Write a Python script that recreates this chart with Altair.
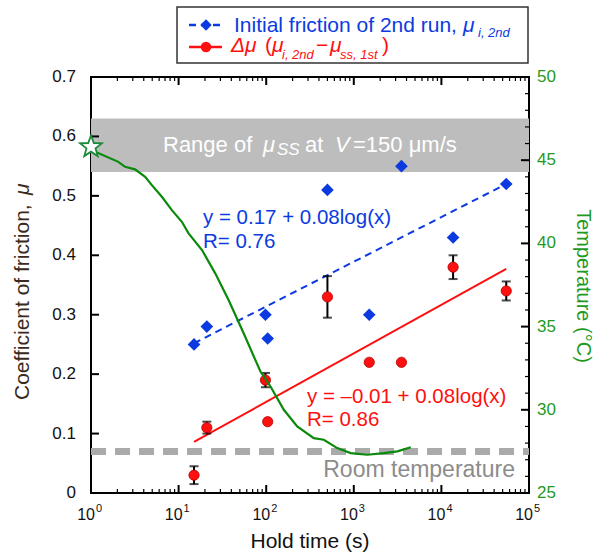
import math
import altair as alt
import pandas as pd

FONT = "Liberation Sans"
BLUE = "#0b3be0"
RED = "#ff1010"
GREEN = "#0a8a0a"
GREEN_TXT = "#1f9a1f"
GRAY_BAND = "#bdbdbd"
GRAY_LINE = "#aaaaaa"

# ---------------- data ----------------
hold_time = [15, 21, 98, 104, 500, 1500, 3500, 13600, 55000]
mu_initial_2nd = [0.25, 0.28, 0.30, 0.26, 0.51, 0.30, 0.55, 0.43, 0.52]
delta_mu = [0.03, 0.11, 0.19, 0.12, 0.33, 0.22, 0.22, 0.38, 0.34]
delta_mu_err = [0.015, 0.01, 0.012, 0.0, 0.035, 0.0, 0.0, 0.02, 0.016]

fit_x = [15, 55000]
fit_blue = [0.252, 0.520]
fit_red = [0.086, 0.377]

band_lo = [0.54]
band_hi = [0.63]

room_temp = [27.5]

temp_time = [1.0, 1.02, 2.05, 2.45, 3.18, 4.15, 4.95, 6.44, 8.38, 10.9, 13.0, 18.5,
             26.2, 37.2, 55.3, 85.9, 112, 159, 226, 349, 455, 647, 919, 1425,
             2208, 3145, 4467]
temperature = [45.8, 45.6, 44.9, 44.6, 44.45, 44.0, 43.5, 42.8, 42.0, 41.3, 40.6,
               39.6, 38.2, 36.6, 34.6, 32.3, 31.4, 30.0, 29.0, 28.3, 28.2, 27.7,
               27.4, 27.3, 27.4, 27.5, 27.75]

star_time = [1.0]
star_temp = [45.8]

mu_tick_values = [0, 0.1, 0.2, 0.3, 0.4, 0.5, 0.6, 0.7]
mu_tick_labels = ["0", "0.1", "0.2", "0.3", "0.4", "0.5", "0.6", "0.7"]
temp_tick_values = [25, 30, 35, 40, 45, 50]
temp_tick_labels = ["25", "30", "35", "40", "45", "50"]
mu_ticks = [0.1, 0.2, 0.3, 0.4, 0.5, 0.6]
temp_major = [30, 35, 40, 45]
temp_minor = [t for t in range(26, 50) if t % 5 != 0]
decades = [10, 100, 1000, 10000]
minor_x = [m * 10 ** k for k in range(0, 5) for m in range(2, 10)]
label_decades = [1, 10, 100, 1000, 10000, 100000]
label_exps = ["0", "1", "2", "3", "4", "5"]

W, H = 438, 416
PAD_L, PAD_T, PAD_R, PAD_B = 91, 77, 66, 63

# five-point star symbol as an SVG path in the [-1, 1] box
_pts = []
for k in range(10):
    r = 1.0 if k % 2 == 0 else 0.42
    a = math.radians(-90 + 36 * k)
    _pts.append(f"{r * math.cos(a):.3f},{r * math.sin(a):.3f}")
STAR_PATH = "M" + " L".join(_pts) + " Z"

# ---------------- tables ----------------
pts = pd.DataFrame({"hold": hold_time, "mu": mu_initial_2nd, "dmu": delta_mu, "err": delta_mu_err})
pts["lo"] = pts["dmu"] - pts["err"]
pts["hi"] = pts["dmu"] + pts["err"]
errs = pts[pts["err"] > 0]
fit = pd.DataFrame({"hold": fit_x, "blue": fit_blue, "red": fit_red})
band = pd.DataFrame({"lo": band_lo, "hi": band_hi})
curve = pd.DataFrame({"hold": temp_time, "temp": temperature})
star = pd.DataFrame({"hold": star_time, "temp": star_temp})
one = pd.DataFrame({"a": [0]})

xscale = alt.Scale(type="log", domain=[1, 100000], nice=False)
muscale = alt.Scale(domain=[0, 0.7], nice=False, zero=False)
tscale = alt.Scale(domain=[25, 50], nice=False, zero=False)


def X(field):
    return alt.X(field, type="quantitative", scale=xscale, axis=None)


def YM(field):
    return alt.Y(field, type="quantitative", scale=muscale, axis=None)


def YT(field):
    return alt.Y(field, type="quantitative", scale=tscale, axis=None)


def txt(s, x, y, size, color, italic=False, align="left", angle=0):
    return alt.Chart(one).mark_text(
        text=s, font=FONT, fontSize=size, color=color, align=align, baseline="alphabetic",
        fontStyle="italic" if italic else "normal", angle=angle
    ).encode(x=alt.value(x), y=alt.value(y))


# ---------------- mu layers ----------------
band_l = alt.Chart(band).mark_rect(color=GRAY_BAND).encode(
    x=alt.value(0), x2=alt.value(W), y=YM("lo"), y2="hi")

blue_fit_l = alt.Chart(fit).mark_line(color=BLUE, strokeWidth=2, strokeDash=[7, 5]).encode(
    x=X("hold"), y=YM("blue"))
red_fit_l = alt.Chart(fit).mark_line(color=RED, strokeWidth=2).encode(
    x=X("hold"), y=YM("red"))

err_rule = alt.Chart(errs).mark_rule(color="black", strokeWidth=2).encode(
    x=X("hold"), y=YM("lo"), y2="hi")
cap_lo = alt.Chart(errs).mark_tick(color="black", orient="horizontal", size=9, thickness=2).encode(
    x=X("hold"), y=YM("lo"))
cap_hi = alt.Chart(errs).mark_tick(color="black", orient="horizontal", size=9, thickness=2).encode(
    x=X("hold"), y=YM("hi"))

blue_pts = alt.Chart(pts).mark_point(shape="diamond", filled=True, size=160, color=BLUE, opacity=1).encode(
    x=X("hold"), y=YM("mu"))
red_pts = alt.Chart(pts).mark_point(shape="circle", filled=True, size=105, fill=RED, stroke="#b00000",
                                    strokeWidth=0.8, opacity=1).encode(
    x=X("hold"), y=YM("dmu"))

# frame ticks (inward)
left_ticks = alt.Chart(pd.DataFrame({"v": mu_ticks})).mark_rule(color="black", strokeWidth=2).encode(
    y=YM("v"), x=alt.value(0), x2=alt.value(8))
dec_df = pd.DataFrame({"hold": decades})
min_df = pd.DataFrame({"hold": minor_x})
bot_major = alt.Chart(dec_df).mark_rule(color="black", strokeWidth=2).encode(
    x=X("hold"), y=alt.value(H), y2=alt.value(H - 8))
bot_minor = alt.Chart(min_df).mark_rule(color="black", strokeWidth=1.2).encode(
    x=X("hold"), y=alt.value(H), y2=alt.value(H - 4))
top_major = alt.Chart(dec_df).mark_rule(color="black", strokeWidth=2).encode(
    x=X("hold"), y=alt.value(0), y2=alt.value(8))
top_minor = alt.Chart(min_df).mark_rule(color="black", strokeWidth=1.2).encode(
    x=X("hold"), y=alt.value(0), y2=alt.value(4))

# axis labels
mu_lab = alt.Chart(pd.DataFrame({"v": mu_tick_values, "t": mu_tick_labels})).mark_text(
    font=FONT, fontSize=17, color="#111", align="right", baseline="middle").encode(
    y=YM("v"), x=alt.value(-15), text="t:N")
lab_df = pd.DataFrame({"hold": label_decades, "e": label_exps})
lab_base = alt.Chart(lab_df).mark_text(text="10", font=FONT, fontSize=16, color="#111",
                                       align="right", baseline="alphabetic", dx=4).encode(
    x=X("hold"), y=alt.value(H + 27))
lab_exp = alt.Chart(lab_df).mark_text(font=FONT, fontSize=11, color="#111",
                                      align="left", baseline="alphabetic", dx=5).encode(
    x=X("hold"), y=alt.value(H + 19), text="e:N")

titles = [
    txt("Hold time (s)", W / 2, H + 55, 21, "#111", align="center"),
    txt("Coefficient of friction,", -62, 323, 21, "#3a2a20", align="left", angle=270),
    txt("μ", -62, 118, 21, "#3a2a20", italic=True, align="left", angle=270),
    txt("Temperature (°C)", 486, 209, 20, GREEN_TXT, align="center", angle=90),
]

# annotations
annots = [
    txt("Range of", 72, 75, 22, "white"),
    txt("μ", 172, 75, 22, "white", italic=True),
    txt("SS", 186, 78, 17, "white", italic=True),
    txt("at", 214, 75, 22, "white"),
    txt("V", 244, 75, 22, "white", italic=True),
    txt("=150 μm/s", 262, 75, 22, "white"),
    txt("y = 0.17 + 0.08log(x)", 112, 147, 20.5, BLUE),
    txt("R= 0.76", 112, 171, 20.5, BLUE),
    txt("y = \u20130.01 + 0.08log(x)", 216, 326, 20.5, RED),
    txt("R= 0.86", 216, 349, 20.5, RED),
    txt("Room temperature", 424, 400, 23, "#8c8c8c", align="right"),
]

# legend
leg_box = alt.Chart(one).mark_rect(fill="white", stroke="#333", strokeWidth=1.5).encode(
    x=alt.value(86), x2=alt.value(437), y=alt.value(-70), y2=alt.value(-14))
leg_l1 = alt.Chart(one).mark_rule(color=BLUE, strokeWidth=2.5, strokeDash=[7, 5]).encode(
    x=alt.value(98), x2=alt.value(131), y=alt.value(-52))
leg_p1 = alt.Chart(one).mark_point(shape="diamond", filled=True, size=130, color=BLUE, opacity=1).encode(
    x=alt.value(115), y=alt.value(-52))
leg_l2 = alt.Chart(one).mark_rule(color=RED, strokeWidth=2.5).encode(
    x=alt.value(98), x2=alt.value(131), y=alt.value(-30))
leg_p2 = alt.Chart(one).mark_point(shape="circle", filled=True, size=110, color=RED, opacity=1).encode(
    x=alt.value(115), y=alt.value(-30))
legend_txt = [
    txt("Initial friction of 2nd run,", 143, -45, 21, BLUE),
    txt("μ", 372, -45, 21, BLUE, italic=True),
    txt("i, 2nd", 387, -40, 13, BLUE, italic=True),
    txt("Δμ", 140, -25, 21, RED, italic=True),
    txt("(", 174, -25, 21, RED),
    txt("μ", 181, -25, 21, RED, italic=True),
    txt("i, 2nd", 191, -18, 13, RED, italic=True),
    txt("\u2212", 225, -25, 21, RED),
    txt("μ", 239, -25, 21, RED, italic=True),
    txt("ss, 1st", 249, -18, 13, RED, italic=True),
    txt(")", 291, -25, 21, RED),
]

mu_group = alt.layer(
    band_l, blue_fit_l, red_fit_l, err_rule, cap_lo, cap_hi, blue_pts, red_pts,
    left_ticks, bot_major, bot_minor, top_major, top_minor, mu_lab, lab_base, lab_exp,
    *titles, *annots, leg_box, leg_l1, leg_p1, leg_l2, leg_p2, *legend_txt
)

# ---------------- temperature layers ----------------
room_l = alt.Chart(pd.DataFrame({"temp": room_temp})).mark_rule(
    color=GRAY_LINE, strokeWidth=7, strokeDash=[15, 9]).encode(
    y=YT("temp"), x=alt.value(0), x2=alt.value(W))
curve_l = alt.Chart(curve).mark_line(color=GREEN, strokeWidth=2.2).encode(
    x=X("hold"), y=YT("temp"))
star_l = alt.Chart(star).mark_point(shape=STAR_PATH, filled=True, fill="white", stroke="#1a8a3a",
                                    strokeWidth=1.8, size=520, opacity=1).encode(
    x=X("hold"), y=YT("temp"))
rt_major = alt.Chart(pd.DataFrame({"temp": temp_major})).mark_rule(color="black", strokeWidth=2).encode(
    y=YT("temp"), x=alt.value(W - 8), x2=alt.value(W))
rt_minor = alt.Chart(pd.DataFrame({"temp": temp_minor})).mark_rule(color="black", strokeWidth=1.2).encode(
    y=YT("temp"), x=alt.value(W - 4), x2=alt.value(W))
t_lab = alt.Chart(pd.DataFrame({"temp": temp_tick_values, "t": temp_tick_labels})).mark_text(
    font=FONT, fontSize=17, color=GREEN_TXT, align="left", baseline="middle").encode(
    y=YT("temp"), x=alt.value(W + 8), text="t:N")

t_group = alt.layer(room_l, curve_l, star_l, rt_major, rt_minor, t_lab)

chart = alt.layer(mu_group, t_group).resolve_scale(y="independent").properties(
    width=W, height=H,
    autosize=alt.AutoSizeParams(type="none"),
    padding={"left": PAD_L, "top": PAD_T, "right": PAD_R, "bottom": PAD_B},
).configure(font=FONT).configure_view(stroke="black", strokeWidth=2)

chart.save("out.html", embed_options={"renderer": "svg", "actions": False})
